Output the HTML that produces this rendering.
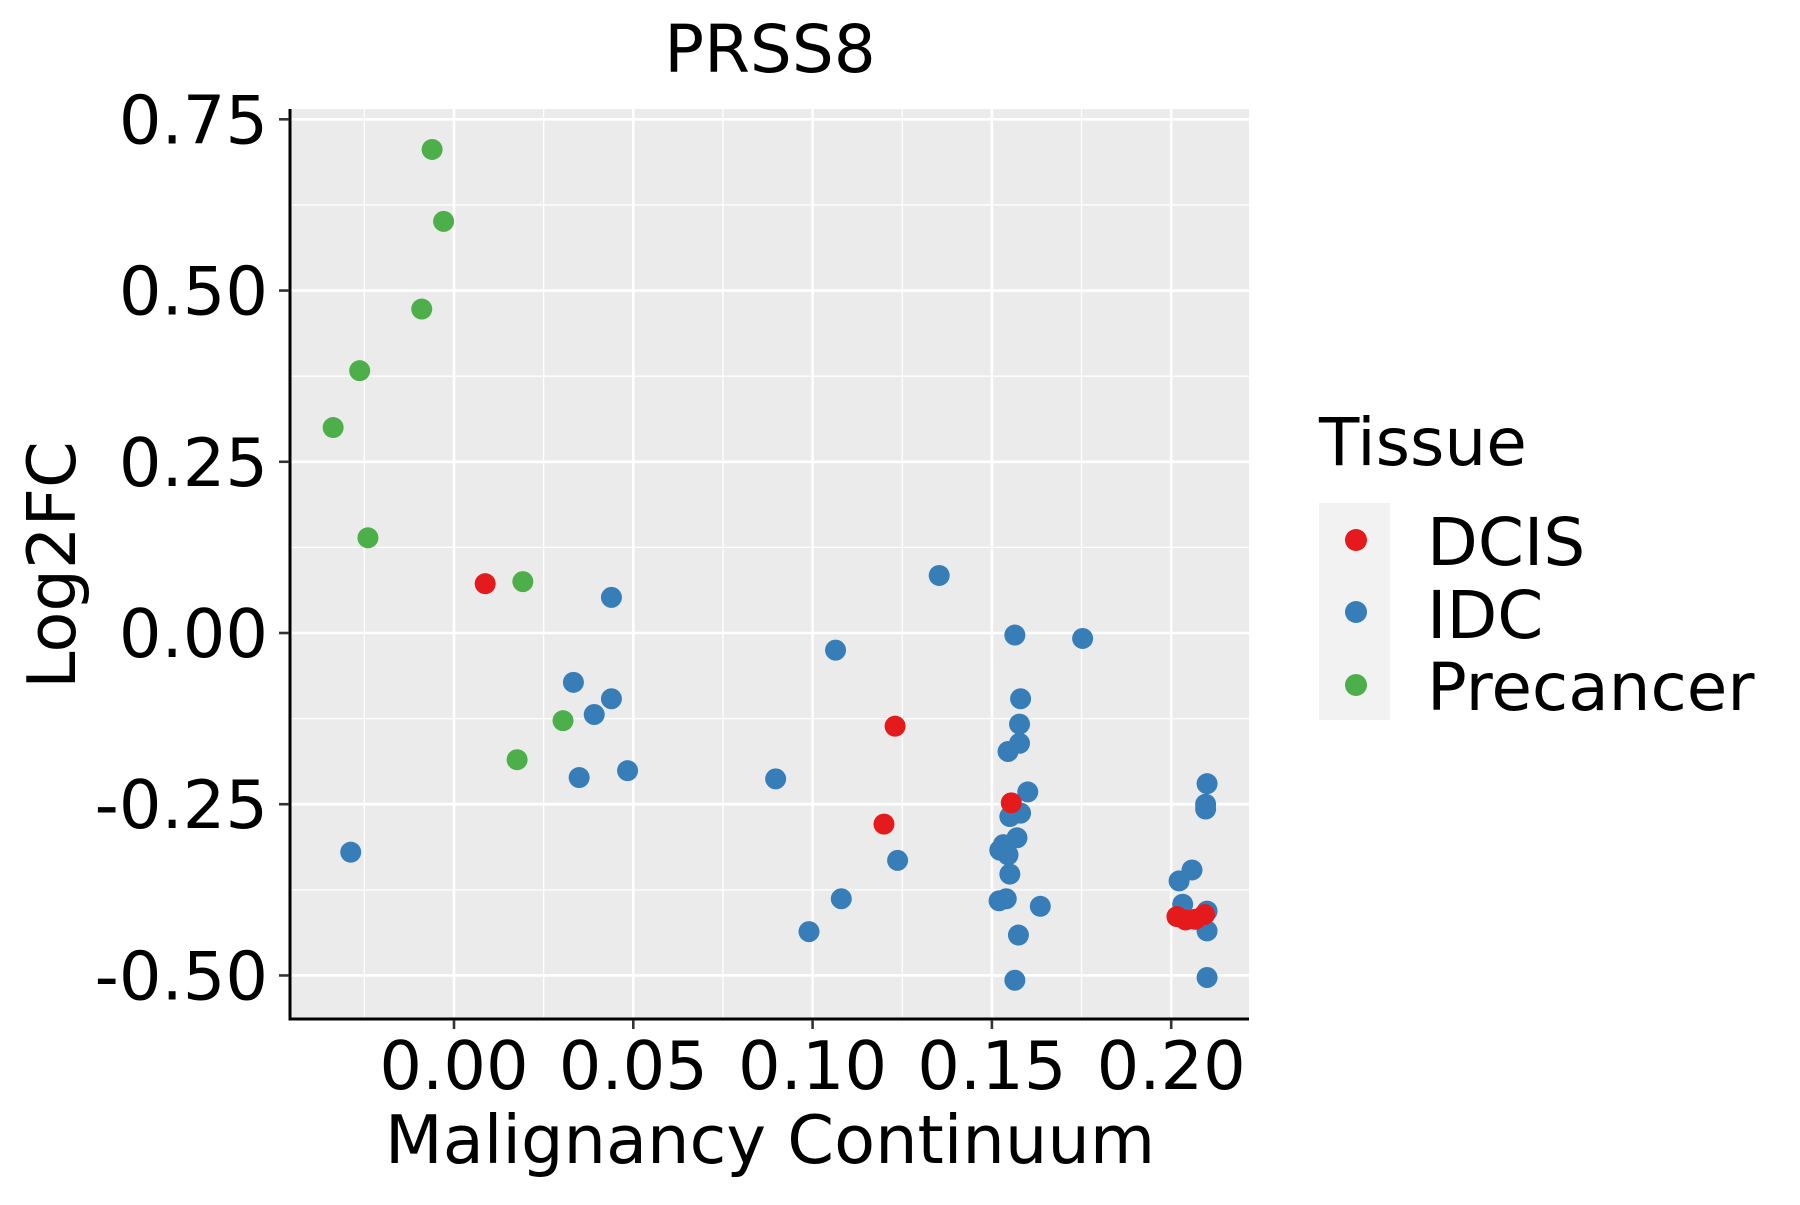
<!DOCTYPE html>
<html><head><meta charset="utf-8"><style>
html,body{margin:0;padding:0;background:#fff}
svg text{font-family:"DejaVu Sans","Liberation Sans",sans-serif;fill:#000}
</style></head><body>
<svg id="chart" width="1800" height="1200" xmlns="http://www.w3.org/2000/svg">
<rect x="290" y="109" width="959" height="910" fill="#EBEBEB"/>
<g id="grid"></g>
<g id="points"></g>
<line x1="290" y1="109" x2="290" y2="1020" stroke="#000" stroke-width="3"/>
<line x1="288.5" y1="1019" x2="1249" y2="1019" stroke="#000" stroke-width="3"/>
<g id="axes"></g>
<text x="770" y="72" font-size="66" text-anchor="middle">PRSS8</text>
<text x="770" y="1163" font-size="67" text-anchor="middle">Malignancy Continuum</text>
<text transform="translate(75,565) rotate(-90)" font-size="67" text-anchor="middle">Log2FC</text>
<g>
<text x="1319" y="465" font-size="66">Tissue</text>
<rect x="1319" y="503" width="71" height="217" fill="#F2F2F2"/>
<circle cx="1356" cy="540" r="11" fill="#E41A1C"/>
<circle cx="1356" cy="612" r="11" fill="#377EB8"/>
<circle cx="1356" cy="685" r="11" fill="#4DAF4A"/>
<text x="1427" y="565" font-size="66">DCIS</text>
<text x="1427" y="638" font-size="66">IDC</text>
<text x="1427" y="710" font-size="66">Precancer</text>
</g>
</svg>
<script>
const xTicks=[0,0.05,0.10,0.15,0.20];
const xTickLabels=["0.00","0.05","0.10","0.15","0.20"];
const xMinor=[-0.025,0.025,0.075,0.125,0.175];
const yTicks=[0.75,0.5,0.25,0,-0.25,-0.5];
const yTickLabels=["0.75","0.50","0.25","0.00","-0.25","-0.50"];
const yMinor=[0.625,0.375,0.125,-0.125,-0.375];
const idcX=[-0.0288,0.0439,0.0333,0.0439,0.0391,0.0349,0.0484,0.0897,0.1064,0.099,0.108,0.1237,0.1353,0.1564,0.1753,0.158,0.1577,0.1577,0.1545,0.16,0.158,0.155,0.157,0.1532,0.1522,0.1545,0.155,0.152,0.154,0.1635,0.1574,0.1564,0.2022,0.2058,0.2032,0.21,0.2096,0.2096,0.21,0.21,0.21];
const idcY=[-0.32,0.052,-0.072,-0.096,-0.119,-0.211,-0.201,-0.213,-0.025,-0.436,-0.388,-0.332,0.084,-0.003,-0.008,-0.096,-0.133,-0.161,-0.173,-0.232,-0.263,-0.268,-0.299,-0.309,-0.317,-0.324,-0.352,-0.391,-0.388,-0.399,-0.441,-0.507,-0.362,-0.346,-0.396,-0.22,-0.25,-0.257,-0.406,-0.435,-0.503];
const dcisX=[0.0087,0.123,0.1199,0.1554,0.2016,0.204,0.2067,0.2093];
const dcisY=[0.072,-0.136,-0.279,-0.248,-0.414,-0.419,-0.418,-0.411];
const preX=[-0.0061,-0.0029,-0.009,-0.0263,-0.0337,-0.024,0.0192,0.0304,0.0176];
const preY=[0.706,0.601,0.473,0.383,0.300,0.139,0.075,-0.128,-0.185];

const NS="http://www.w3.org/2000/svg";
const X0=290,X1=1249,Y0=109,Y1=1019;
function sx(v){return 454+3586*v;}
function sy(v){return 633-684.9*v;}
function mk(tag,attrs,parent){const e=document.createElementNS(NS,tag);for(const k in attrs)e.setAttribute(k,attrs[k]);parent.appendChild(e);return e;}
const grid=document.getElementById('grid'),axes=document.getElementById('axes'),pts=document.getElementById('points');
xMinor.forEach(v=>{const l=mk('line',{x1:sx(v),x2:sx(v),y1:Y0,y2:Y1,stroke:'#fff','stroke-width':1.3},grid);

});
yMinor.forEach(v=>{const l=mk('line',{x1:X0,x2:X1,y1:sy(v),y2:sy(v),stroke:'#fff','stroke-width':1.3},grid);

});
xTicks.forEach((v,i)=>{const l=mk('line',{x1:sx(v),x2:sx(v),y1:Y0,y2:Y1,stroke:'#fff','stroke-width':2.6},grid);


const t=mk('line',{x1:sx(v),x2:sx(v),y1:1020,y2:1029,stroke:'#333','stroke-width':2.6},axes);


const tx=mk('text',{x:sx(v),y:1089,'font-size':67,'text-anchor':'middle'},axes);tx.textContent=xTickLabels[i];

});
yTicks.forEach((v,i)=>{const l=mk('line',{x1:X0,x2:X1,y1:sy(v),y2:sy(v),stroke:'#fff','stroke-width':2.6},grid);


const t=mk('line',{x1:279,x2:289,y1:sy(v),y2:sy(v),stroke:'#333','stroke-width':2.6},axes);


const tx=mk('text',{x:268,y:sy(v)+24,'font-size':67,'text-anchor':'end'},axes);tx.textContent=yTickLabels[i];

});
function series(xs,ys,color,name){xs.forEach((v,i)=>{const c=mk('circle',{cx:sx(v),cy:sy(ys[i]),r:10.5,fill:color},pts);

});}
series(idcX,idcY,'#377EB8','point-idc');
series(dcisX,dcisY,'#E41A1C','point-dcis');
series(preX,preY,'#4DAF4A','point-precancer');
</script>
</body></html>
